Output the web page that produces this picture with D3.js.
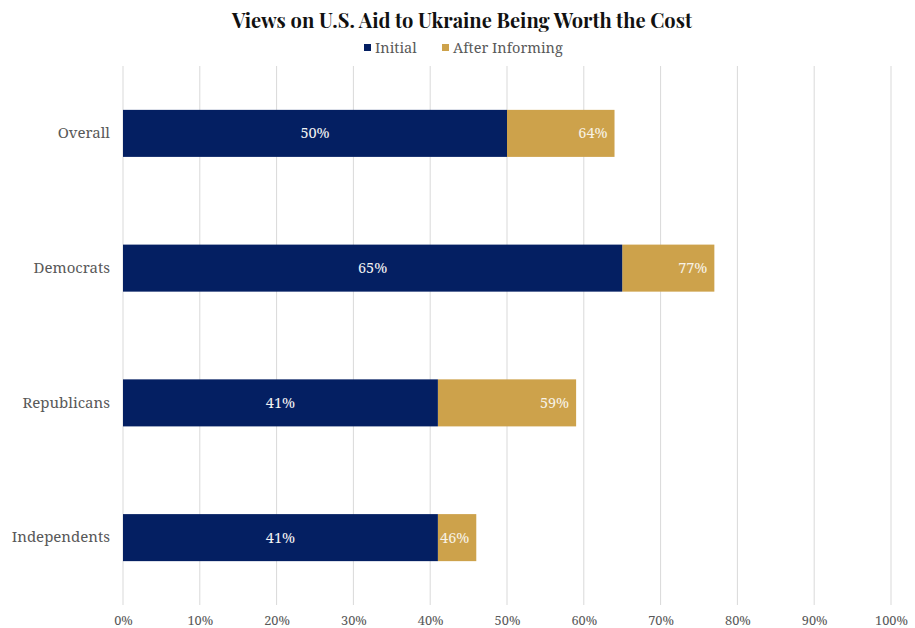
<!DOCTYPE html>
<html>
<head>
<meta charset="utf-8">
<script src="https://cdn.jsdelivr.net/npm/d3@7"></script>
<style>
  html, body { margin: 0; padding: 0; background: #fff; }
  svg { display: block; }
</style>
</head>
<body>
<svg id="chart" width="915" height="628"></svg>
<script>
// Share saying U.S. aid to Ukraine is worth the cost, before and after informing
const categories = ["Overall", "Democrats", "Republicans", "Independents"];
const initialValues = [50, 65, 41, 41];
const afterValues = [64, 77, 59, 46];
const xTicks = [0, 10, 20, 30, 40, 50, 60, 70, 80, 90, 100];
const seriesNames = ["Initial", "After Informing"];

const NAVY = "#041f62";
const GOLD = "#cda24b";
const TEXT = "#595959";
const SERIF = "'Noto Serif', 'DejaVu Serif', serif";

const svg = d3.select("#chart");
const plotLeft = 123, plotRight = 891, plotTop = 66, plotBottom = 605;

const x = d3.scaleLinear().domain([0, 100]).range([plotLeft, plotRight]);
const y = d3.scaleBand().domain(categories).range([plotTop, plotBottom])
  .paddingInner(0.651).paddingOuter(0.3255);

// vertical gridlines
svg.append("g").selectAll("line").data(xTicks).join("line")
  .attr("x1", d => x(d)).attr("x2", d => x(d))
  .attr("y1", plotTop).attr("y2", plotBottom)
  .attr("stroke", "#d9d9d9").attr("stroke-width", 1);

// x axis tick labels
const xAxis = d3.axisBottom(x).tickValues(xTicks).tickFormat(d => d + "%").tickSize(0);
const gx = svg.append("g").attr("transform", `translate(0,${plotBottom})`).call(xAxis);
gx.select(".domain").remove();
gx.selectAll("text")
  .attr("dy", "0")
  .attr("y", 20)
  .style("font-family", SERIF).style("font-size", "12.8px").attr("fill", TEXT);

// category labels
const yAxis = d3.axisLeft(y).tickSize(0).tickPadding(13);
const gy = svg.append("g").attr("transform", `translate(${plotLeft},0)`).call(yAxis);
gy.select(".domain").remove();
gy.selectAll("text")
  .style("font-family", SERIF).style("font-size", "15px").attr("fill", TEXT);

const rows = categories.map((c, i) => ({ c, init: initialValues[i], after: afterValues[i] }));

// "After Informing" segment drawn from the initial value to the informed value
svg.append("g").selectAll("rect").data(rows).join("rect")
  .attr("x", d => x(d.init)).attr("y", d => y(d.c))
  .attr("width", d => x(d.after) - x(d.init)).attr("height", y.bandwidth())
  .attr("fill", GOLD);

// "Initial" bar
svg.append("g").selectAll("rect").data(rows).join("rect")
  .attr("x", x(0)).attr("y", d => y(d.c))
  .attr("width", d => x(d.init) - x(0)).attr("height", y.bandwidth())
  .attr("fill", NAVY);

// value labels
svg.append("g").selectAll("text").data(rows).join("text")
  .attr("x", d => (x(0) + x(d.init)) / 2)
  .attr("y", d => y(d.c) + y.bandwidth() / 2)
  .attr("dy", "0.35em").attr("text-anchor", "middle")
  .style("font-family", SERIF).style("font-size", "14.5px")
  .attr("fill", "#f2f2f2")
  .text(d => d.init + "%");

svg.append("g").selectAll("text").data(rows).join("text")
  .attr("x", d => x(d.after) - 7)
  .attr("y", d => y(d.c) + y.bandwidth() / 2)
  .attr("dy", "0.35em").attr("text-anchor", "end")
  .style("font-family", SERIF).style("font-size", "14.5px")
  .attr("fill", "#f7f2e6")
  .text(d => d.after + "%");

// title
const title = svg.append("text")
  .attr("x", 462).attr("y", 28).attr("text-anchor", "middle")
  .style("font-family", "'Playfair Display', 'DejaVu Serif', serif")
  .style("font-weight", "bold").style("font-size", "20px")
  .attr("fill", "#111")
  .text("Views on U.S. Aid to Ukraine Being Worth the Cost");
const tw = title.node().getComputedTextLength();
title.style("font-size", (20 * 460 / tw).toFixed(2) + "px");

// legend
const legend = svg.append("g");
const legendItems = [
  { name: seriesNames[0], color: NAVY, x: 364 },
  { name: seriesNames[1], color: GOLD, x: 442 }
];
legendItems.forEach(it => {
  legend.append("rect").attr("x", it.x).attr("y", 44).attr("width", 7).attr("height", 7).attr("fill", it.color);
  legend.append("text").attr("x", it.x + 11).attr("y", 48).attr("dy", "0.35em")
    .style("font-family", SERIF).style("font-size", "14.5px").attr("fill", TEXT)
    .text(it.name);
});
</script>
</body>
</html>
